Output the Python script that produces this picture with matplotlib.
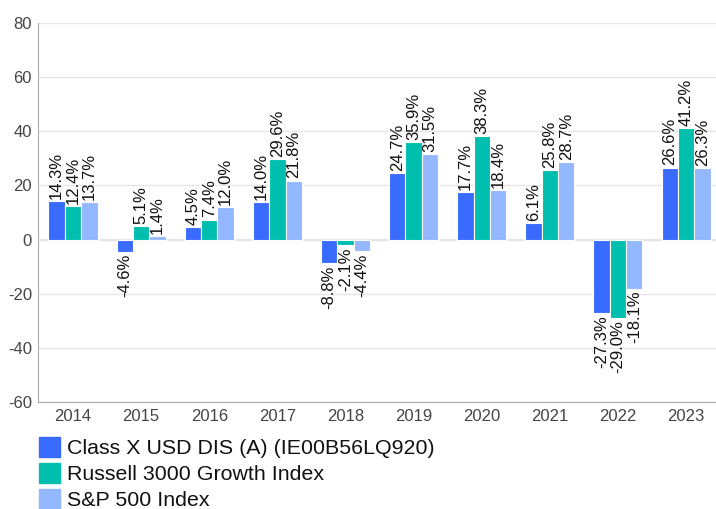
import matplotlib
matplotlib.use("Agg")
import matplotlib.pyplot as plt
import numpy as np

plt.rcParams['font.family'] = ['Liberation Sans', 'DejaVu Sans']

years = ["2014", "2015", "2016", "2017", "2018", "2019", "2020", "2021", "2022", "2023"]
series_names = ["Class X USD DIS (A) (IE00B56LQ920)", "Russell 3000 Growth Index", "S&P 500 Index"]
class_x = [14.3, -4.6, 4.5, 14.0, -8.8, 24.7, 17.7, 6.1, -27.3, 26.6]
russell = [12.4, 5.1, 7.4, 29.6, -2.1, 35.9, 38.3, 25.8, -29.0, 41.2]
sp500 = [13.7, 1.4, 12.0, 21.8, -4.4, 31.5, 18.4, 28.7, -18.1, 26.3]
y_ticks = [-60, -40, -20, 0, 20, 40, 60, 80]

colors = ["#3a6bff", "#00bfae", "#94b8ff"]
data = [class_x, russell, sp500]

W, H = 716, 509
fig = plt.figure(figsize=(W / 100, H / 100), dpi=100)
ax = fig.add_axes([38 / W, 1 - 402 / H, (W - 38) / W, (402 - 23) / H])

x = np.arange(len(years))
bw = 0.24
for i, (vals, col) in enumerate(zip(data, colors)):
    pos = x + (i - 1) * bw
    ax.bar(pos, vals, width=bw, color=col, edgecolor="white", linewidth=0.8, zorder=3)
    for px, v in zip(pos, vals):
        if v >= 0:
            ax.annotate(f"{v:.1f}%", (px, v), xytext=(0, 1.5), textcoords="offset points",
                        rotation=90, ha="center", va="bottom", fontsize=12, color="#111111", zorder=4)
        else:
            ax.annotate(f"{v:.1f}%", (px, v), xytext=(0, -1.5), textcoords="offset points",
                        rotation=90, ha="center", va="top", fontsize=12, color="#111111", zorder=4)

ax.set_xlim(-0.514, 9.44)
ax.set_ylim(-60, 80)
ax.set_yticks(y_ticks)
ax.set_yticklabels([str(t) for t in y_ticks])
ax.set_xticks(x)
ax.set_xticklabels(years)
ax.tick_params(axis="both", length=0, labelsize=12, labelcolor="#444444")
ax.tick_params(axis="y", pad=4.3)
ax.tick_params(axis="x", pad=5)
ax.grid(axis="y", color="#e6e6e6", linewidth=1, zorder=0)
ax.axhline(0, color="#e6e6e6", linewidth=1.5, zorder=1)
for s in ["top", "right"]:
    ax.spines[s].set_visible(False)
ax.spines["left"].set_color("#aaaaaa")
ax.spines["bottom"].set_color("#aaaaaa")

# legend drawn manually below the plot
row_centers = [447, 473, 499]
for name, col, yc in zip(series_names, colors, row_centers):
    fig.patches.append(plt.Rectangle((39 / W, 1 - (yc + 10) / H), 21 / W, 20 / H,
                                     transform=fig.transFigure, color=col, figure=fig))
    fig.text(67 / W, 1 - yc / H, name, ha="left", va="center_baseline", fontsize=15.4, color="#111111")

fig.savefig("out.png", dpi=100)
